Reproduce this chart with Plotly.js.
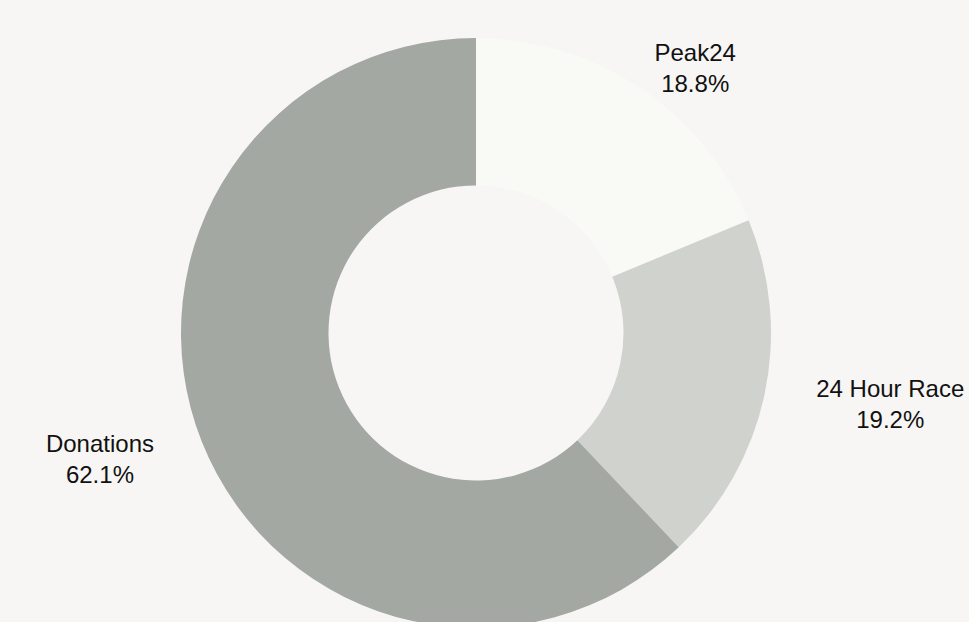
<!DOCTYPE html>
<html>
<head>
<meta charset="utf-8">
<script src="https://cdn.plot.ly/plotly-3.0.1.min.js"></script>
<style>html,body{margin:0;padding:0;background:#f7f6f4;overflow:hidden;}#chart{width:969px;height:700px;}</style>
</head>
<body>
<div id="chart"></div>
<script>
const categories = ["Peak24", "24 Hour Race", "Donations"];
const shares = [18.76, 19.18, 62.06];
const sliceColors = ["#f9faf6", "#d0d2cd", "#a3a8a3"];
const labelPull = [0, 0.129, 0.122];

const labelFont = {family: "Liberation Sans, Arial, sans-serif", size: 24, color: "#111111"};

// donut slices
const donut = {
  type: "pie",
  labels: categories,
  values: shares,
  hole: 0.5,
  sort: false,
  direction: "clockwise",
  rotation: 0,
  textinfo: "none",
  marker: {colors: sliceColors, line: {width: 0}},
  domain: {x: [0.186791, 0.795666], y: [0.102857, 0.945714]},
  showlegend: false,
  hoverinfo: "label+percent"
};

// outside labels for the same slices (transparent fill, labels only)
const labelsRing = {
  type: "pie",
  labels: categories,
  values: shares,
  hole: 0.5,
  sort: false,
  direction: "clockwise",
  rotation: 0,
  pull: labelPull,
  textinfo: "label+percent",
  textposition: "outside",
  texttemplate: "%{label}<br>%{percent:.1%}",
  outsidetextfont: labelFont,
  marker: {colors: ["rgba(0,0,0,0)", "rgba(0,0,0,0)", "rgba(0,0,0,0)"], line: {width: 0}},
  domain: {x: [0.147575, 0.834881], y: [0.048571, 1.0]},
  showlegend: false,
  hoverinfo: "skip"
};

const layout = {
  width: 969,
  height: 700,
  paper_bgcolor: "#f7f6f4",
  plot_bgcolor: "#f7f6f4",
  margin: {l: 0, r: 0, t: 0, b: 0},
  showlegend: false,
  font: labelFont
};

Plotly.newPlot("chart", [donut, labelsRing], layout, {displayModeBar: false, staticPlot: true});
</script>
</body>
</html>
